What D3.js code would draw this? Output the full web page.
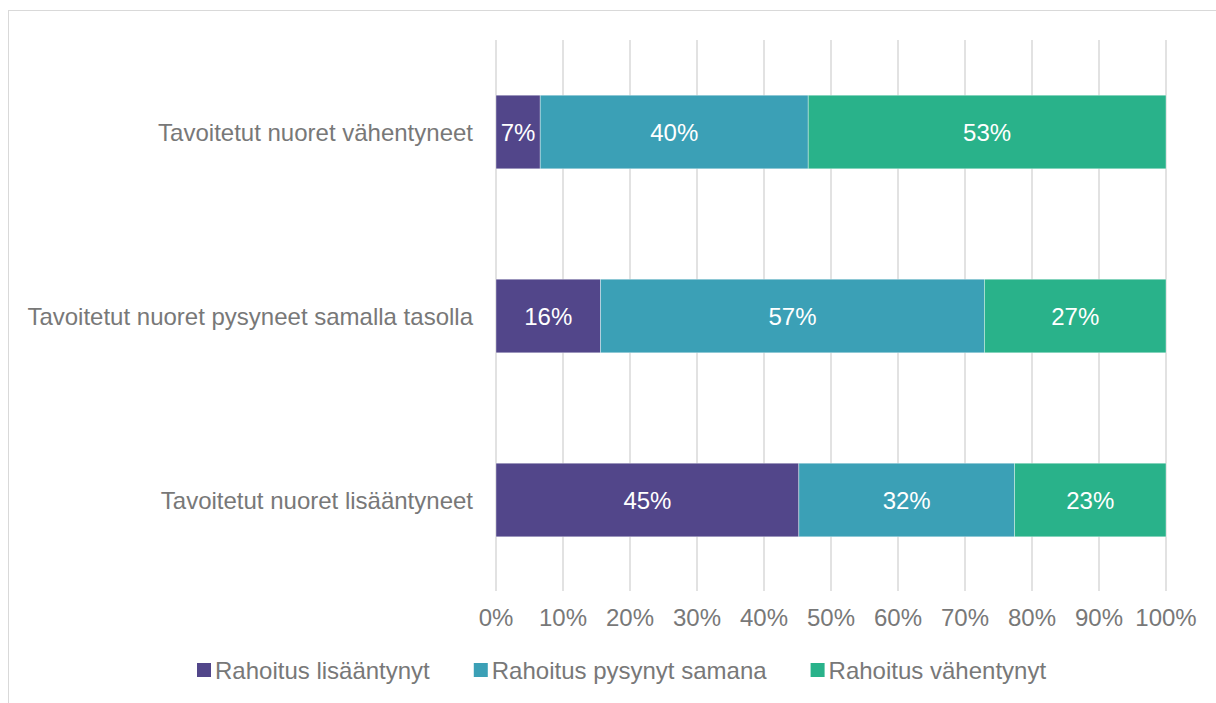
<!DOCTYPE html>
<html>
<head>
<meta charset="utf-8">
<script src="https://cdn.jsdelivr.net/npm/d3@7"></script>
<style>
    body { margin: 0; background: #fff; }
    svg { display: block; font-family: "Liberation Sans", Arial, sans-serif; }
</style>
</head>
<body>
<svg id="chart" width="1216" height="703"></svg>
<script>
// categories, top to bottom
let categories = ["Tavoitetut nuoret vähentyneet", "Tavoitetut nuoret pysyneet samalla tasolla", "Tavoitetut nuoret lisääntyneet"];
let series = ["Rahoitus lisääntynyt", "Rahoitus pysynyt samana", "Rahoitus vähentynyt"];
// shares in %, one array per series (same order as categories)
let lisaantynyt = [6.6, 15.6, 45.2];
let pysynyt = [40.0, 57.3, 32.2];
let vahentynyt = [53.4, 27.1, 22.6];
let ticks = [0, 10, 20, 30, 40, 50, 60, 70, 80, 90, 100];

let couleurs = ["#52468a", "#3ba0b6", "#29b28a"];
let gris = "#787878";
let taille = 24;

let svg = d3.select("#chart");

// cadre
svg.append("rect")
    .attr("x", 8.5)
    .attr("y", 10.5)
    .attr("width", 1230)
    .attr("height", 720)
    .attr("fill", "none")
    .attr("stroke", "#d9d9d9")
    .attr("stroke-width", 1);

let x = d3.scaleLinear().domain([0, 100]).range([496, 1166]);
let y = d3.scaleBand().domain(categories).range([40, 592]).paddingInner(0.6).paddingOuter(0.3);

// grille
svg.append("g")
    .selectAll("line")
    .data(ticks)
    .join("line")
    .attr("x1", d => x(d))
    .attr("x2", d => x(d))
    .attr("y1", 40)
    .attr("y2", 591)
    .attr("stroke", "#d9d9d9")
    .attr("stroke-width", 1.5);

// étiquettes de l'axe x
svg.append("g")
    .selectAll("text")
    .data(ticks)
    .join("text")
    .attr("x", d => x(d))
    .attr("y", 626)
    .attr("text-anchor", "middle")
    .attr("font-size", taille)
    .attr("fill", gris)
    .text(d => d + "%");

// données empilées
let table = categories.map((c, i) => ({
    cat: c,
    [series[0]]: lisaantynyt[i],
    [series[1]]: pysynyt[i],
    [series[2]]: vahentynyt[i]
}));
let stack = d3.stack().keys(series)(table);

let groupes = svg.append("g")
    .selectAll("g")
    .data(stack)
    .join("g")
    .attr("fill", (d, i) => couleurs[i]);

groupes.selectAll("rect")
    .data(d => d)
    .join("rect")
    .attr("x", d => x(d[0]))
    .attr("y", d => y(d.data.cat))
    .attr("width", d => x(d[1]) - x(d[0]))
    .attr("height", y.bandwidth())
    .attr("stroke", "rgba(255,255,255,0.5)")
    .attr("stroke-width", 0.75);

groupes.selectAll("text")
    .data(d => d)
    .join("text")
    .attr("x", d => (x(d[0]) + x(d[1])) / 2)
    .attr("y", d => y(d.data.cat) + y.bandwidth() / 2)
    .attr("dy", "0.36em")
    .attr("text-anchor", "middle")
    .attr("font-size", taille)
    .attr("fill", "#fff")
    .text(d => Math.round(d[1] - d[0]) + "%");

// catégories
svg.append("g")
    .selectAll("text")
    .data(categories)
    .join("text")
    .attr("x", 473)
    .attr("y", d => y(d) + y.bandwidth() / 2)
    .attr("dy", "0.36em")
    .attr("text-anchor", "end")
    .attr("font-size", taille)
    .attr("fill", gris)
    .text(d => d);

// légende
let legende = svg.append("g");
let posX = 197;
series.forEach(function (s, i) {
    legende.append("rect")
        .attr("x", posX)
        .attr("y", 663)
        .attr("width", 14)
        .attr("height", 14)
        .attr("fill", couleurs[i]);
    let t = legende.append("text")
        .attr("x", posX + 18)
        .attr("y", 679)
        .attr("font-size", taille)
        .attr("fill", gris)
        .text(s);
    posX += 18 + t.node().getComputedTextLength() + 44;
});
</script>
</body>
</html>
